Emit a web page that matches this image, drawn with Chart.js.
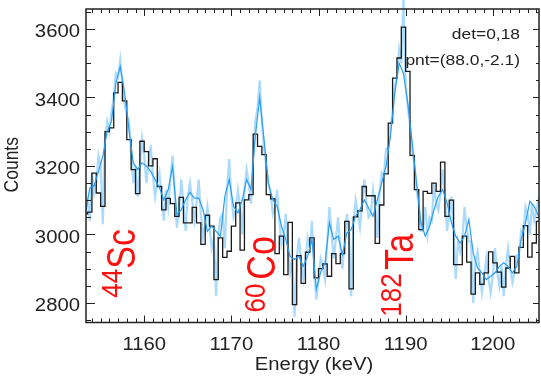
<!DOCTYPE html>
<html>
<head>
<meta charset="utf-8">
<script src="https://cdn.jsdelivr.net/npm/chart.js@4.4.1/dist/chart.umd.min.js"></script>
<style>
  body { margin: 0; background: #fff; }
  #spectrum { display: block; }
</style>
</head>
<body>
<canvas id="spectrum" width="541" height="377"></canvas>
<script>
// measured spectrum, 0.5 keV bins, left edge of first bin at binStart
var binStart = 1153.0;
var binWidth = 0.5;
var histCounts = [
  3060, 3065, 3179, 3121, 3082, 3300, 3311, 3413, 3444, 3390,
  3277, 3189, 3119, 3272, 3242, 3200, 3221, 3140, 3072, 3105,
  3090, 3053, 3108, 3034, 3034, 3079, 3034, 2971, 3056, 3024,
  2868, 2990, 2933, 2951, 3024, 3092, 2954, 3101, 3116, 3293,
  3257, 3233, 3116, 3104, 2944, 2995, 2883, 3035, 2795, 2938,
  2857, 2948, 2990, 2873, 2900, 2914, 2878, 2944, 2915, 2944,
  3038, 2841, 3051, 3069, 3140, 3113, 3113, 2974, 3086, 3177,
  3325, 3456, 3515, 3605, 3476, 3231, 3131, 3014, 3126, 3120,
  3150, 3126, 3211, 3053, 3100, 2912, 2912, 2995, 2919, 2826,
  2888, 2854, 2888, 2949, 2917, 2890, 2846, 2902, 2936, 2888,
  2962, 3026, 2934, 2975, 3038, 3000
];
// smoothed curve, one value per bin centre
var smoothCounts = [
  3060, 3136, 3142, 3184, 3228, 3301, 3330, 3442, 3490, 3413,
  3306, 3209, 3189, 3209, 3200, 3184, 3160, 3136, 3101, 3131,
  3199, 3058, 3072, 3101, 3123, 3106, 3106, 3072, 3009, 3024,
  3009, 2995, 3111, 3160, 3082, 3063, 3101, 3160, 3131, 3286,
  3400, 3276, 3150, 3101, 3082, 3024, 2985, 2936, 2927, 2936,
  2907, 2936, 2985, 2840, 2890, 2917, 3034, 2985, 2995, 2941,
  3004, 3014, 3053, 3072, 3101, 3077, 3053, 3101, 3150, 3199,
  3286, 3413, 3500, 3470, 3383, 3267, 3150, 3034, 2995, 3024,
  3072, 3111, 3131, 3092, 3034, 2995, 2975, 2995, 3043, 2946,
  2902, 2888, 2868, 2878, 2888, 2907, 2917, 2907, 2888, 2907,
  2985, 3034, 3097, 3082, 3053, 3060
];
// fine-grained counts, every 0.25 keV from binStart
var rawStep = 0.25;
var rawCounts = [
  3010, 3110, 3100, 3040, 3180, 3120, 3150, 3230, 3200, 3030,
  3280, 3330, 3300, 3360, 3400, 3470, 3460, 3510, 3440, 3380,
  3350, 3330, 3240, 3150, 3200, 3110, 3200, 3280, 3230, 3150,
  3210, 3260, 3170, 3110, 3150, 3180, 3110, 3040, 3130, 3080,
  3160, 3230, 3120, 3020, 3070, 3160, 3090, 3010, 3110, 3150,
  3100, 3040, 3090, 3160, 3060, 2990, 3030, 3080, 3020, 2960,
  2990, 2820, 3000, 3050, 3060, 2960, 3130, 3220, 3110, 3050,
  3070, 3130, 3080, 3000, 3130, 3190, 3150, 3090, 3230, 3330,
  3370, 3450, 3330, 3250, 3200, 3150, 3120, 3060, 3080, 3130,
  3040, 2970, 3000, 3060, 2960, 2890, 2930, 2760, 2930, 2990,
  2920, 2870, 2920, 2990, 2960, 3040, 2900, 2810, 2870, 2930,
  2910, 2870, 2980, 3080, 3000, 2930, 2990, 3050, 2960, 2900,
  2980, 3060, 3000, 2820, 3030, 3100, 3060, 3020, 3090, 3160,
  3090, 3050, 3060, 3130, 3080, 2990, 3120, 3180, 3170, 3250,
  3250, 3320, 3350, 3430, 3460, 3540, 3500, 3690, 3430, 3370,
  3320, 3240, 3210, 3130, 3090, 3010, 3010, 3080, 3000, 3050,
  3040, 3150, 3090, 3070, 3120, 3190, 3110, 3010, 3060, 3110,
  3010, 2870, 2980, 2950, 2980, 3080, 3020, 2980, 2980, 2800,
  2920, 2950, 2890, 2830, 2880, 2930, 2870, 2830, 2880, 2960,
  2890, 2850, 2910, 2820, 2910, 2960, 2900, 2860, 2890, 2940,
  2940, 3010, 3000, 3080, 3060, 3000, 3090, 3040, 3070, 3100,
  3050, 3020, 3060
];
var xTicks = [1160, 1170, 1180, 1190, 1200];
var yTicks = [2800, 3000, 3200, 3400, 3600];
var xRange = [1153.32, 1205.3];
var yRange = [2743, 3658];
var isotopes = [
  { mass: '44', name: 'Sc' },
  { mass: '60', name: 'Co' },
  { mass: '182', name: 'Ta' }
];
var infoLines = ['det=0,18', 'pnt=(88.0,-2.1)'];

// histogram as a stepped line: one point per left edge plus the closing edge
var histPoints = histCounts.map(function (c, i) {
  return { x: binStart + i * binWidth, y: c };
});
histPoints.push({ x: binStart + histCounts.length * binWidth, y: histCounts[histCounts.length - 1] });

var smoothPoints = smoothCounts.map(function (c, i) {
  return { x: binStart + (i + 0.5) * binWidth, y: c };
});
var rawPoints = rawCounts.map(function (c, i) {
  return { x: binStart + i * rawStep, y: c };
});

var FONT = '"Liberation Sans", Arial, sans-serif';
var WIDE = 1.16;   // labels are set a little wider than the plain face

// where the red isotope tags sit, in energy / counts
var tagPos = [
  { mass: [1157.44, 2815], name: [1158.93, 2900] },
  { mass: [1173.83, 2772], name: [1175.05, 2868] },
  { mass: [1189.45, 2760], name: [1190.80, 2897] }
];

function drawWide(ctx, text, x, y) {
  ctx.save();
  ctx.translate(x, y);
  ctx.scale(WIDE, 1);
  ctx.fillText(text, 0, 0);
  ctx.restore();
}

function drawUp(ctx, text, x, y, size, stretch) {
  ctx.save();
  ctx.translate(x, y);
  ctx.rotate(-Math.PI / 2);
  ctx.scale(1, stretch);
  ctx.font = size + 'px ' + FONT;
  ctx.fillText(text, 0, 0);
  ctx.restore();
}

var frameAndText = {
  id: 'frameAndText',
  afterDatasetsDraw: function (chart) {
    var ctx = chart.ctx, a = chart.chartArea;
    var xs = chart.scales.x, ys = chart.scales.y;
    ctx.save();

    // frame
    ctx.strokeStyle = '#222';
    ctx.lineWidth = 1.5;
    ctx.strokeRect(a.left, a.top, a.right - a.left, a.bottom - a.top);

    // inward ticks on all four sides
    ctx.lineWidth = 1;
    ctx.beginPath();
    for (var e = Math.ceil(xs.min); e <= xs.max; e++) {
      var px = Math.round(xs.getPixelForValue(e)) + 0.5;
      var major = e % 10 === 0;
      ctx.moveTo(px, a.bottom); ctx.lineTo(px, a.bottom - (major ? 7 : 4));
      ctx.moveTo(px, a.top); ctx.lineTo(px, a.top + (major ? 7 : 4));
    }
    for (var c = Math.ceil(ys.min / 50) * 50; c <= ys.max; c += 50) {
      var py = Math.round(ys.getPixelForValue(c)) + 0.5;
      var maj = c % 200 === 0;
      ctx.moveTo(a.left, py); ctx.lineTo(a.left + (maj ? 9 : 5), py);
      ctx.moveTo(a.right, py); ctx.lineTo(a.right - (maj ? 6 : 3), py);
    }
    ctx.stroke();

    // tick labels
    ctx.fillStyle = '#222';
    ctx.font = '17.5px ' + FONT;
    ctx.textBaseline = 'alphabetic';
    ctx.textAlign = 'center';
    xTicks.forEach(function (v) {
      drawWide(ctx, String(v), xs.getPixelForValue(v), a.bottom + 27);
    });
    ctx.textAlign = 'right';
    yTicks.forEach(function (v) {
      drawWide(ctx, String(v), a.left - 6, ys.getPixelForValue(v) + 8.5);
    });

    // axis titles
    ctx.textAlign = 'center';
    drawWide(ctx, 'Energy (keV)', (a.left + a.right) / 2 + 1.5, a.bottom + 47.5);
    ctx.save();
    ctx.translate(a.left - 68, (a.top + a.bottom) / 2 - 1);
    ctx.rotate(-Math.PI / 2);
    ctx.scale(1, WIDE);
    ctx.fillText('Counts', 0, 0);
    ctx.restore();

    // detector info, top right
    ctx.textAlign = 'right';
    ctx.font = '15px ' + FONT;
    drawWide(ctx, infoLines[0], a.right - 19, a.top + 30);
    drawWide(ctx, infoLines[1], a.right - 19, a.top + 56);

    // isotope tags
    ctx.fillStyle = '#ff1010';
    ctx.textAlign = 'left';
    isotopes.forEach(function (iso, i) {
      var p = tagPos[i];
      drawUp(ctx, iso.mass, xs.getPixelForValue(p.mass[0]), ys.getPixelForValue(p.mass[1]), 26, 1.12);
      drawUp(ctx, iso.name, xs.getPixelForValue(p.name[0]), ys.getPixelForValue(p.name[1]), 34, 1.2);
    });

    ctx.restore();
  }
};

new Chart(document.getElementById('spectrum'), {
  type: 'line',
  data: {
    datasets: [
      { label: 'smoothed', data: smoothPoints, borderColor: '#2a9df4', borderWidth: 1.2, pointRadius: 0 },
      { label: 'measured', data: histPoints, stepped: 'before', borderColor: '#1a1a1a', borderWidth: 1.3, pointRadius: 0 },
      { label: 'raw', data: rawPoints, borderColor: 'rgba(125,198,250,0.65)', borderWidth: 2.2, pointRadius: 0,
        clip: { left: 0, top: 14, right: 0, bottom: 0 } }
    ]
  },
  options: {
    responsive: false,
    animation: false,
    devicePixelRatio: 1,
    layout: { padding: { left: 86, top: 9, right: 2, bottom: 54.5 } },
    elements: { line: { tension: 0 } },
    plugins: { legend: { display: false }, tooltip: { enabled: false } },
    scales: {
      x: { type: 'linear', min: xRange[0], max: xRange[1], display: false },
      y: { type: 'linear', min: yRange[0], max: yRange[1], display: false }
    }
  },
  plugins: [frameAndText]
});
</script>
</body>
</html>
